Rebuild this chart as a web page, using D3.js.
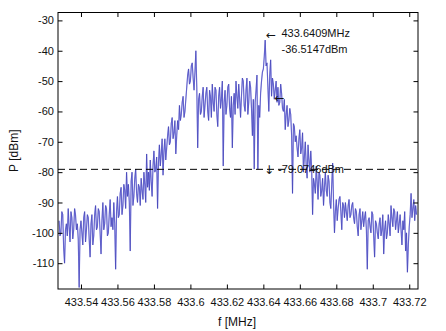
<!DOCTYPE html>
<html>
<head>
<meta charset="utf-8">
<script src="https://cdn.jsdelivr.net/npm/d3@7"></script>
<style>
  body { margin: 0; background: #fff; }
  svg text { fill: #111; }
</style>
</head>
<body>
<svg width="446" height="331"></svg>
<script>
// spectrum sweep: first bin and bin width in MHz
const fStart = 433.528
const fStep = 0.0005
// measured power per bin, dBm
const power = [
  -96, -101, -100, -93, -94, -105, -110, -99, -97, -101, -92, -98, -103, -93, -95, -102, -99, -92, -94, -99,
  -97, -102, -118, -99, -96, -100, -104, -95, -93, -103, -99, -94, -95, -102, -108, -97, -94, -104, -101, -94,
  -91, -99, -98, -92, -93, -100, -107, -96, -90, -99, -97, -91, -92, -101, -100, -94, -89, -98, -95, -99,
  -90, -97, -112, -93, -88, -95, -94, -87, -85, -94, -91, -84, -86, -92, -80, -88, -84, -90, -106, -83,
  -80, -91, -88, -82, -79, -87, -90, -84, -85, -91, -82, -86, -89, -80, -84, -90, -74, -85, -80, -86,
  -76, -83, -88, -78, -73, -80, -79, -75, -92, -77, -71, -78, -74, -69, -81, -73, -69, -76, -72, -68,
  -65, -71, -70, -64, -62, -69, -67, -63, -74, -68, -63, -66, -58, -63, -61, -57, -55, -62, -60, -56,
  -52, -48, -46, -51, -50, -45, -44, -49, -53, -47, -40, -52, -72, -56, -54, -61, -60, -55, -52, -62,
  -58, -54, -52, -60, -63, -53, -55, -62, -51, -57, -60, -52, -53, -61, -65, -55, -52, -59, -56, -50,
  -78, -57, -53, -61, -58, -52, -51, -59, -62, -55, -72, -58, -54, -61, -50, -55, -59, -51, -56, -62,
  -55, -49, -50, -58, -60, -53, -49, -61, -57, -50, -52, -59, -68, -56, -79, -57, -53, -48, -79, -58,
  -62, -54, -50, -47, -46, -42, -36.5, -45, -44, -52, -60, -48, -43, -55, -49, -51, -56, -53, -50, -57,
  -52, -58, -57, -51, -54, -59, -60, -56, -66, -61, -58, -65, -63, -59, -61, -68, -87, -64, -65, -70,
  -68, -72, -75, -69, -66, -74, -72, -67, -80, -75, -70, -78, -82, -71, -76, -80, -73, -79, -94, -82,
  -84, -87, -78, -83, -89, -80, -81, -88, -86, -82, -91, -85, -80, -86, -88, -81, -83, -90, -92, -84,
  -77, -90, -100, -93, -89, -96, -92, -89, -88, -93, -99, -90, -91, -95, -90, -93, -96, -91, -89, -95,
  -94, -91, -90, -95, -97, -92, -93, -98, -101, -94, -92, -99, -96, -93, -98, -95, -93, -99, -112, -96,
  -95, -98, -100, -93, -94, -101, -108, -96, -97, -100, -102, -97, -95, -101, -99, -94, -107, -99, -96, -102,
  -100, -94, -97, -101, -91, -95, -98, -92, -93, -99, -96, -93, -100, -97, -94, -99, -104, -96, -99, -93,
  -106, -100, -113, -104, -98, -94, -87, -95, -92, -89, -96, -91, -94
]
const xTicks = [433.54, 433.56, 433.58, 433.6, 433.62, 433.64, 433.66, 433.68, 433.7, 433.72]
const yTicks = [-30, -40, -50, -60, -70, -80, -90, -100, -110]

// markers
const peakF = 433.6409
const peakP = -36.5147
const levelP = -79.0746
const sideF = 433.6464
const sideP = -55.5

const pl = 58, pr = 418, pt = 12.5, pb = 289
const sans = "'Liberation Sans', Arial, sans-serif"

const x = d3.scaleLinear().domain([433.5274, 433.7248]).range([pl, pr])
const y = d3.scaleLinear().domain([-118.5, -27.4]).range([pb, pt])

const svg = d3.select('svg').style('font-family', sans)
const pts = power.map((p, i) => [fStart + i * fStep, p])

svg.append('clipPath').attr('id', 'plot')
  .append('rect')
  .attr('x', pl).attr('y', pt)
  .attr('width', pr - pl).attr('height', pb - pt)

const line = d3.line().x(d => x(d[0])).y(d => y(d[1]))
const trace = svg.append('g').attr('clip-path', 'url(#plot)')
trace.append('path')
  .datum(pts)
  .attr('d', line)
  .attr('fill', 'none')
  .attr('stroke', '#9090ea')
  .attr('stroke-width', 1.2)
trace.append('path')
  .datum(pts)
  .attr('d', line)
  .attr('fill', 'none')
  .attr('stroke', '#2a2aa4')
  .attr('stroke-width', 0.45)

// threshold line
svg.append('line')
  .attr('x1', pl).attr('x2', pr)
  .attr('y1', y(levelP)).attr('y2', y(levelP))
  .attr('stroke', '#000')
  .attr('stroke-dasharray', '7,4')

// axes, ticks pointing inward on all four sides
const fmt = d => String(d)
svg.append('g')
  .attr('transform', `translate(0,${pb})`)
  .call(d3.axisBottom(x).tickValues(xTicks).tickFormat(fmt).tickSizeInner(-4.5).tickSizeOuter(0).tickPadding(9.5))
svg.append('g')
  .attr('transform', `translate(0,${pt})`)
  .call(d3.axisTop(x).tickValues(xTicks).tickFormat('').tickSizeInner(-4.5).tickSizeOuter(0))
svg.append('g')
  .attr('transform', `translate(${pl},0)`)
  .call(d3.axisLeft(y).tickValues(yTicks).tickFormat(fmt).tickSizeInner(-4.5).tickSizeOuter(0).tickPadding(4))
svg.append('g')
  .attr('transform', `translate(${pr},0)`)
  .call(d3.axisRight(y).tickValues(yTicks).tickFormat('').tickSizeInner(-4.5).tickSizeOuter(0))

svg.selectAll('.domain').remove()
svg.selectAll('.tick line').attr('stroke', '#000')
svg.selectAll('.tick text').attr('font-size', 11).attr('fill', '#111')
  .attr('font-family', sans)

svg.append('rect')
  .attr('x', pl).attr('y', pt)
  .attr('width', pr - pl).attr('height', pb - pt)
  .attr('fill', 'none')
  .attr('stroke', '#000')

// axis titles
svg.append('text')
  .attr('x', (pl + pr) / 2 - 1).attr('y', 326)
  .attr('text-anchor', 'middle')
  .attr('font-size', 12)
  .text('f [MHz]')
svg.append('text')
  .attr('transform', `translate(18,${(pt + pb) / 2}) rotate(-90)`)
  .attr('text-anchor', 'middle')
  .attr('font-size', 12)
  .text('P [dBm]')

// annotations
const ann = svg.append('g').attr('font-size', 11)
const arrow = (gx, gy, ch) => ann.append('text')
  .attr('x', gx).attr('y', gy)
  .style('font-family', "'DejaVu Sans', sans-serif")
  .attr('font-size', 12)
  .text(ch)

arrow(x(peakF) + 1, y(peakP) - 1, '←')
ann.append('text')
  .attr('x', x(peakF) + 16.5).attr('y', y(peakP) - 3)
  .text('433.6409MHz')
ann.append('text')
  .attr('x', x(peakF) + 16.5).attr('y', y(peakP) + 13)
  .text('-36.5147dBm')
arrow(x(sideF) - 0.5, y(sideP) + 4, '←')
arrow(x(peakF) - 1, y(levelP) + 5, '↓')
ann.append('text')
  .attr('x', x(peakF) + 13).attr('y', y(levelP) + 4)
  .text('-79.0746dBm')
</script>
</body>
</html>
